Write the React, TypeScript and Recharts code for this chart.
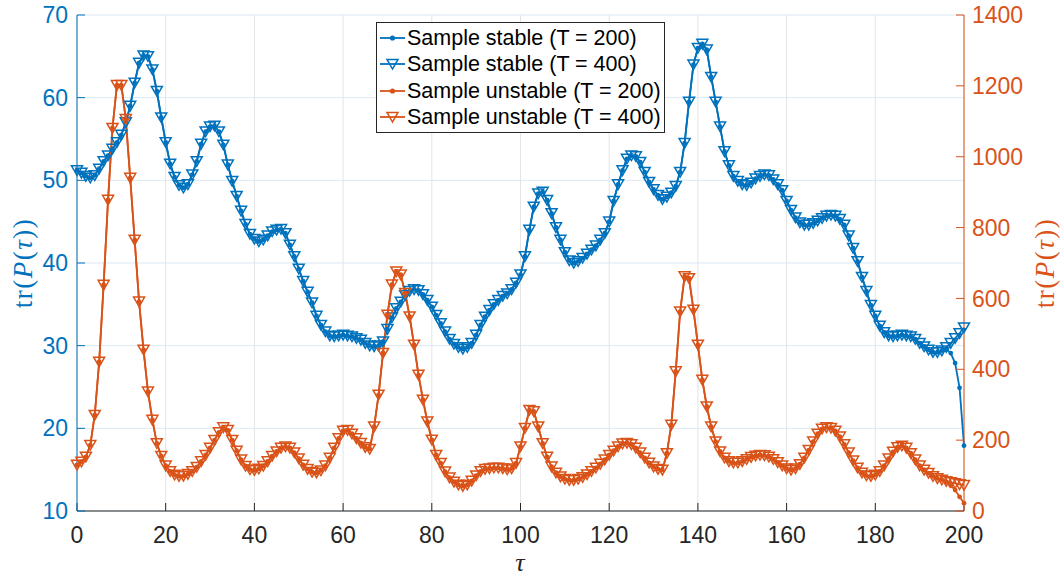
import React from 'react'
import {
  LineChart,
  Line,
  XAxis,
  YAxis,
  CartesianGrid,
  Legend,
} from 'recharts'

const BLUE = '#0072BD'
const ORANGE = '#D95319'
const DARK = '#262626'
const SANS = '"Liberation Sans", Arial, Helvetica, sans-serif'
const SERIF = '"Liberation Serif", "Times New Roman", serif'

// tau = 0 .. 200, one sample per unit
const tau = Array.from({ length: 201 }, (_, i) => i)

const xTicks = [0, 20, 40, 60, 80, 100, 120, 140, 160, 180, 200]
const leftTicks = [10, 20, 30, 40, 50, 60, 70]
const rightTicks = [0, 200, 400, 600, 800, 1000, 1200, 1400]

// tr(P(tau)) for the stable sample, T = 400 (left axis)
const stable400 = [
  51.2, 50.9, 50.5, 50.3, 50.6, 51.4, 52.3, 53.0, 53.8, 54.6,
  55.5, 57.0, 59.0, 61.8, 64.2, 65.1, 65.0, 63.4, 60.8, 57.6,
  54.6, 52.0, 50.4, 49.4, 49.1, 49.5, 50.7, 52.3, 54.4, 55.9,
  56.5, 56.6, 55.9, 54.3, 51.9, 49.9, 48.1, 46.3, 44.7, 43.5,
  42.9, 42.6, 42.8, 43.3, 43.8, 44.0, 44.1, 43.6, 42.2, 40.8,
  39.3, 37.8, 36.5, 35.2, 33.6, 32.5, 31.7, 31.2, 31.1, 31.2,
  31.3, 31.2, 31.1, 30.9, 30.7, 30.3, 30.0, 29.9, 30.0, 30.5,
  32.0, 33.4, 34.5, 35.3, 36.1, 36.6, 36.8, 36.7, 36.2, 35.5,
  34.7, 33.7, 32.7, 31.7, 30.8, 30.2, 29.8, 29.6, 29.8, 30.3,
  31.3, 32.5, 33.5, 34.3, 35.0, 35.5, 36.0, 36.3, 36.8, 37.6,
  38.6, 40.8, 44.0, 46.8, 48.4, 48.6, 47.6, 46.0, 44.3, 42.8,
  41.3, 40.3, 40.0, 40.2, 40.6, 41.1, 41.6, 42.1, 42.8, 43.6,
  45.0, 47.5, 49.5, 51.2, 52.6, 53.0, 52.9, 52.2, 51.0, 49.8,
  48.9, 48.2, 47.7, 48.0, 48.5, 49.3, 51.0, 54.5, 59.5, 64.0,
  66.0, 66.5, 65.8, 62.5, 59.5, 56.5, 53.5, 51.8, 50.5, 49.9,
  49.5, 49.4, 49.7, 50.2, 50.5, 50.7, 50.6, 50.1, 49.5, 48.8,
  47.5, 46.4, 45.5, 44.9, 44.6, 44.6, 44.8, 45.1, 45.4, 45.7,
  45.8, 45.7, 45.3, 44.6, 43.3, 41.8, 40.2, 38.3, 36.6, 34.9,
  33.6, 32.4, 31.6, 31.2, 31.1, 31.2, 31.3, 31.2, 31.1, 30.8,
  30.3, 29.9, 29.5, 29.2, 29.2, 29.4, 29.8, 30.3, 30.9, 31.5,
  32.2,
]

// T = 200 follows T = 400 until the horizon, then drops (tau = 196..200)
const stable200Tail = [29.6, 29.1, 27.9, 24.9, 17.9]
const stable200 = [...stable400.slice(0, 196), ...stable200Tail]

// tr(P(tau)) for the unstable sample, T = 400 (right axis)
const unstable400 = [
  130, 139, 153, 186, 271, 421, 638, 878, 1081, 1202,
  1202, 1106, 940, 765, 591, 455, 337, 257, 191, 155,
  128, 112, 102, 98, 99, 104, 112, 124, 140, 158,
  178, 200, 222, 236, 228, 200, 170, 145, 127, 117,
  115, 119, 127, 140, 155, 168, 178, 182, 178, 165,
  148, 130, 118, 110, 108, 114, 128, 150, 178, 205,
  226, 228, 218, 205, 192, 180, 175, 238, 328, 446,
  554, 639, 676, 667, 615, 549, 469, 384, 314, 252,
  201, 158, 135, 111, 94, 82, 74, 70, 74, 85,
  100, 112, 118, 120, 122, 122, 120, 117, 120, 135,
  182, 234, 285, 281, 238, 191, 153, 125, 108, 97,
  90, 87, 87, 90, 95, 103, 112, 122, 133, 145,
  158, 170, 182, 190, 192, 188, 178, 165, 150, 136,
  125, 118, 116, 163, 243, 394, 563, 662, 657, 568,
  469, 370, 295, 238, 196, 168, 150, 140, 136, 136,
  140, 146, 152, 156, 158, 157, 153, 146, 137, 128,
  120, 116, 120, 132, 150, 172, 196, 218, 232, 236,
  234, 226, 210, 188, 165, 142, 122, 108, 100, 98,
  102, 112, 128, 148, 167, 180, 184, 178, 163, 145,
  128, 116, 107, 98, 92, 88, 84, 81, 78, 75,
  73,
]

const unstable200Tail = [82, 72, 59, 40, 22]
const unstable200 = [...unstable400.slice(0, 196), ...unstable200Tail]

const rows = tau.map((t, i) => ({
  tau: t,
  s200: stable200[i],
  s400: stable400[i],
  u200: unstable200[i],
  u400: unstable400[i],
}))

function triPath(cx: number, cy: number) {
  return `M${cx - 5.5},${cy - 4.6} L${cx + 5.5},${cy - 4.6} L${cx},${cy + 5} Z`
}

const makeTriangle = (color: string) => (props: any) => {
  const { cx, cy, index } = props
  if (cx == null || cy == null) return <g key={`t-${color}-${index}`} />
  return (
    <path
      key={`t-${color}-${index}`}
      d={triPath(cx, cy)}
      fill="none"
      stroke={color}
      strokeWidth={1.5}
      strokeLinejoin="miter"
    />
  )
}

const makeDot = (color: string) => (props: any) => {
  const { cx, cy, index } = props
  if (cx == null || cy == null) return <g key={`d-${color}-${index}`} />
  return <circle key={`d-${color}-${index}`} cx={cx} cy={cy} r={2.4} fill={color} />
}

const legendItems = [
  { label: 'Sample stable (T = 200)', color: BLUE, marker: 'dot' },
  { label: 'Sample stable (T = 400)', color: BLUE, marker: 'tri' },
  { label: 'Sample unstable (T = 200)', color: ORANGE, marker: 'dot' },
  { label: 'Sample unstable (T = 400)', color: ORANGE, marker: 'tri' },
]

function LegendBox() {
  return (
    <div
      style={{
        border: `1px solid ${DARK}`,
        background: '#fff',
        width: 289,
        boxSizing: 'border-box',
        padding: '2px 0',
      }}
    >
      {legendItems.map((it) => (
        <div key={it.label} style={{ display: 'flex', alignItems: 'center', height: 26.3 }}>
          <svg width={30} height={26} style={{ flex: 'none' }}>
            <line x1={3} y1={13} x2={28} y2={13} stroke={it.color} strokeWidth={1.8} />
            {it.marker === 'dot' ? (
              <circle cx={15.5} cy={13} r={2.6} fill={it.color} />
            ) : (
              <path d={triPath(15.5, 13)} fill="none" stroke={it.color} strokeWidth={1.5} />
            )}
          </svg>
          <span
            style={{
              fontFamily: SANS,
              fontSize: 21.5,
              color: '#000',
              lineHeight: '26px',
              whiteSpace: 'nowrap',
            }}
          >
            {it.label}
          </span>
        </div>
      ))}
    </div>
  )
}

// Recharts overrides x / y on a cloned label, so positions use other names
function AxisTitle({ posX, posY, color }: { posX: number; posY: number; color: string }) {
  return (
    <text
      x={posX}
      y={posY}
      transform={`rotate(-90 ${posX} ${posY})`}
      textAnchor="middle"
      dominantBaseline="central"
      fontFamily={SERIF}
      fontSize={27}
      letterSpacing={1.5}
      fill={color}
    >
      tr(<tspan fontStyle="italic">P</tspan>(<tspan fontStyle="italic">τ</tspan>))
    </text>
  )
}

function TauTitle() {
  return (
    <text x={520} y={571} textAnchor="middle" fontFamily={SERIF} fontSize={26} fontStyle="italic" fill={DARK}>
      τ
    </text>
  )
}

export default function App() {
  return (
    <div style={{ position: 'absolute', left: 0, top: 0, width: 1061, height: 576, background: '#fff' }}>
      <LineChart width={1061} height={576} data={rows} margin={{ top: 15, right: 0, bottom: 0, left: 0 }}>
        <CartesianGrid yAxisId="left" vertical={false} stroke="#dbe8f3" strokeWidth={1} />
        <CartesianGrid yAxisId="left" horizontal={false} stroke="#e4e4e4" strokeWidth={1} />
        <XAxis
          dataKey="tau"
          type="number"
          domain={[0, 200]}
          ticks={xTicks}
          height={65}
          tickSize={-8}
          tickMargin={24}
          axisLine={{ stroke: DARK }}
          tickLine={{ stroke: DARK }}
          tick={{ fill: DARK, fontSize: 23, fontFamily: SANS }}
          label={<TauTitle />}
        />
        <YAxis
          yAxisId="left"
          domain={[10, 70]}
          ticks={leftTicks}
          width={77}
          tickSize={-8}
          tickMargin={17}
          axisLine={{ stroke: BLUE }}
          tickLine={{ stroke: BLUE }}
          tick={{ fill: BLUE, fontSize: 23, fontFamily: SANS }}
          label={<AxisTitle posX={22.5} posY={263} color={BLUE} />}
        />
        <YAxis
          yAxisId="right"
          orientation="right"
          domain={[0, 1400]}
          ticks={rightTicks}
          width={97}
          tickSize={-8}
          tickMargin={16}
          axisLine={{ stroke: ORANGE }}
          tickLine={{ stroke: ORANGE }}
          tick={{ fill: ORANGE, fontSize: 23, fontFamily: SANS }}
          label={<AxisTitle posX={1045} posY={263} color={ORANGE} />}
        />
        <Line
          yAxisId="left"
          type="linear"
          dataKey="s200"
          stroke={BLUE}
          strokeWidth={1.8}
          dot={makeDot(BLUE)}
          activeDot={false}
          isAnimationActive={false}
        />
        <Line
          yAxisId="left"
          type="linear"
          dataKey="s400"
          stroke={BLUE}
          strokeWidth={1.8}
          dot={makeTriangle(BLUE)}
          activeDot={false}
          isAnimationActive={false}
        />
        <Line
          yAxisId="right"
          type="linear"
          dataKey="u200"
          stroke={ORANGE}
          strokeWidth={1.8}
          dot={makeDot(ORANGE)}
          activeDot={false}
          isAnimationActive={false}
        />
        <Line
          yAxisId="right"
          type="linear"
          dataKey="u400"
          stroke={ORANGE}
          strokeWidth={1.8}
          dot={makeTriangle(ORANGE)}
          activeDot={false}
          isAnimationActive={false}
        />
        <Legend
          layout="horizontal"
          verticalAlign="middle"
          align="center"
          content={() => <LegendBox />}
          wrapperStyle={{ left: 376, top: 22, width: 'auto', height: 'auto' }}
        />
      </LineChart>
    </div>
  )
}
